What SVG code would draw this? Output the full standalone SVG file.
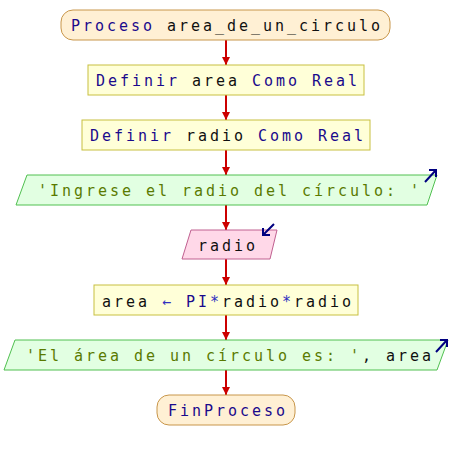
<svg xmlns="http://www.w3.org/2000/svg" width="452" height="460" viewBox="0 0 452 460">
<defs>
<style>
text{font-family:"DejaVu Sans Mono","Liberation Mono",monospace;font-size:15px;letter-spacing:2.97px;}
.kw{fill:#1a0a8c}
.id{fill:#101010}
.str{fill:#5a7a00}
.op{fill:#3030c0}
.term{fill:#fff0d4;stroke:#c8964a;stroke-width:1}
.proc{fill:#ffffd8;stroke:#c8c040;stroke-width:1}
.io{fill:#e2ffe2;stroke:#50c050;stroke-width:1}
.in{fill:#ffd8e8;stroke:#c06090;stroke-width:1}
.conn{stroke:#cc0000;stroke-width:2;fill:none}
.ioarr{stroke:#000080;stroke-width:2;fill:none}
</style>
<marker id="ah" markerWidth="10" markerHeight="8" refX="8" refY="4" orient="auto" markerUnits="userSpaceOnUse">
<path d="M0,0 L8,4 L0,8 Z" fill="#cc0000"/>
</marker>
</defs>
<rect width="452" height="460" fill="#ffffff"/>
<g id="connectors">
<line class="conn" x1="226" y1="40" x2="226" y2="65" marker-end="url(#ah)"/>
<line class="conn" x1="226" y1="95" x2="226" y2="120" marker-end="url(#ah)"/>
<line class="conn" x1="226" y1="150" x2="226" y2="175" marker-end="url(#ah)"/>
<line class="conn" x1="226" y1="205" x2="226" y2="230" marker-end="url(#ah)"/>
<line class="conn" x1="226" y1="259" x2="226" y2="285" marker-end="url(#ah)"/>
<line class="conn" x1="226" y1="315" x2="226" y2="340" marker-end="url(#ah)"/>
<line class="conn" x1="226" y1="370" x2="226" y2="395" marker-end="url(#ah)"/>
</g>
<g id="start">
<rect class="term" x="61" y="10" width="329" height="30" rx="12" ry="12"/>
<text x="71" y="31"><tspan class="kw">Proceso</tspan><tspan class="id"> area_de_un_circulo</tspan></text>
</g>
<g id="def-area">
<rect class="proc" x="88" y="65" width="276" height="30"/>
<text x="96" y="86"><tspan class="kw">Definir</tspan><tspan class="id"> area </tspan><tspan class="kw">Como Real</tspan></text>
</g>
<g id="def-radio">
<rect class="proc" x="82" y="120" width="288" height="30"/>
<text x="90" y="141"><tspan class="kw">Definir</tspan><tspan class="id"> radio </tspan><tspan class="kw">Como Real</tspan></text>
</g>
<g id="write-prompt">
<polygon class="io" points="27,175 437,175 427,205 16,205"/>
<text x="38" y="196" class="str">'Ingrese el radio del círculo: '</text>
<path class="ioarr" d="M425,182 L436,170 M429,170 L436,170 L436,177"/>
</g>
<g id="read-radio">
<polygon class="in" points="191,230 277,230 270,259 182,259"/>
<text x="198" y="251" class="id">radio</text>
<path class="ioarr" d="M274,224 L263,235 M263,228 L263,235 L270,235"/>
</g>
<g id="assign">
<rect class="proc" x="94" y="285" width="264" height="30"/>
<text x="102" y="307"><tspan class="id">area </tspan><tspan class="op">←</tspan><tspan class="id"> </tspan><tspan class="kw">PI</tspan><tspan class="op">*</tspan><tspan class="id">radio</tspan><tspan class="op">*</tspan><tspan class="id">radio</tspan></text>
</g>
<g id="write-result">
<polygon class="io" points="15,340 448,340 437,370 4,370"/>
<text x="26" y="361"><tspan class="str">'El área de un círculo es: '</tspan><tspan class="id">, area</tspan></text>
<path class="ioarr" d="M436,352 L447,340 M440,340 L447,340 L447,347"/>
</g>
<g id="end">
<rect class="term" x="157" y="395" width="138" height="30" rx="12" ry="12"/>
<text x="168" y="416" class="kw">FinProceso</text>
</g>
</svg>
